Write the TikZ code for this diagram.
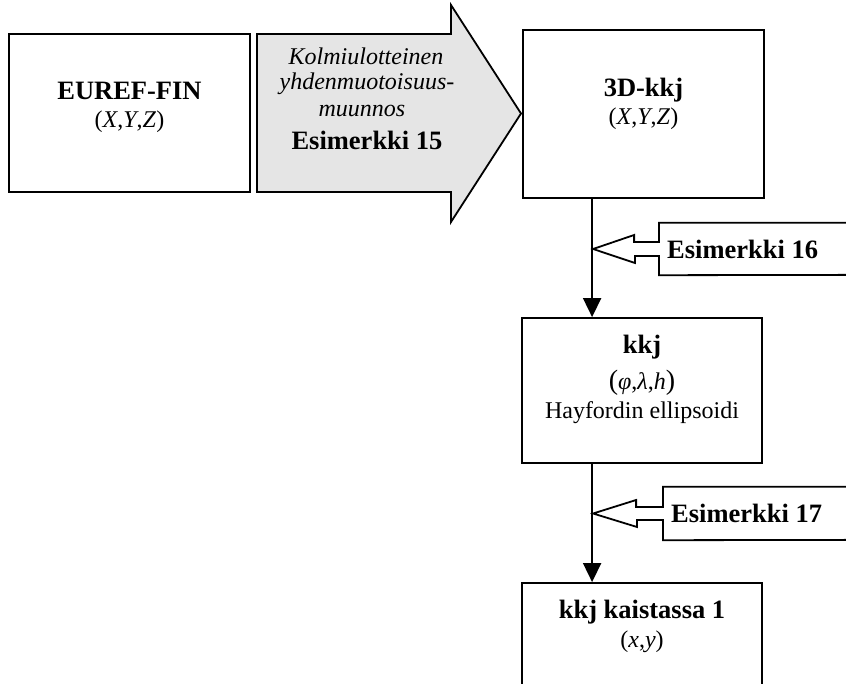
\documentclass[tikz,border=0pt]{standalone}
\usepackage{fontspec}
\setmainfont{Liberation Serif}
\usetikzlibrary{calc,arrows.meta}
\begin{document}
\begin{tikzpicture}[x=1pt,y=-1pt,
  box/.style={draw,line width=1.8pt,inner sep=0pt},
  ttl/.style={anchor=base,inner sep=0pt,font=\fontsize{26.5}{30}\selectfont\bfseries},
  sub/.style={anchor=base,inner sep=0pt,font=\fontsize{24}{28}\selectfont},
  itl/.style={anchor=base,inner sep=0pt,font=\fontsize{24}{28}\selectfont\itshape},
  note/.style={anchor=west,inner xsep=8pt,inner ysep=0pt,minimum height=52pt,
    font=\fontsize{26.5}{30}\selectfont\bfseries},
  flow/.style={line width=1.8pt,-{Triangle[width=18pt,length=19pt]}},
  callout/.style={draw,line width=1.8pt,line join=miter},
  bigarrow/.style={draw,line width=1.8pt,fill=black!10,line join=miter},
  ]
\clip (0,0) rectangle (846,684);

% wide transformation arrow between the two 3D systems
\draw[bigarrow] (257,34) -- (451,34) -- (451,5) -- (521,113.5) -- (451,222)
  -- (451,192) -- (257,192) -- cycle;
\node[itl] (t1) at (366,65) {Kolmiulotteinen};
\node[itl] (t2) at (367,90) {yhdenmuotoisuus-};
\node[itl] (t3) at (362,117) {muunnos};
\node[ttl] (t4) at (367,150) {Esimerkki 15};

% coordinate system boxes
\node[box,minimum width=241pt,minimum height=158pt] (euref) at (129.5,113) {};
\node[ttl] at (129.5,100) {EUREF-FIN};
\node[sub] at (129.5,128) {(\textit{X},\textit{Y},\textit{Z})};

\node[box,minimum width=241pt,minimum height=168pt] (box3d) at (643.5,114) {};
\node[ttl] at (643.5,97) {3D-kkj};
\node[sub] at (643.5,125) {(\textit{X},\textit{Y},\textit{Z})};

\node[box,minimum width=240pt,minimum height=145pt] (kkj) at (642,390.5) {};
\node[ttl] at (642,354) {kkj};
\node[sub] at (642,389) {{\fontsize{28}{30}\selectfont(}\textit{φ},\textit{λ},\textit{h}{\fontsize{28}{30}\selectfont)}};
\node[sub] at (642,418) {Hayfordin ellipsoidi};

\node[box,minimum width=240pt,minimum height=137pt] (kaist) at (642,651.5) {};
\node[ttl] at (642,618) {kkj kaistassa 1};
\node[sub] at (642,647) {(\textit{x},\textit{y})};

% vertical flow
\coordinate (trunk) at ($(box3d.south west)+(70,0)$);
\draw[flow] (trunk) -- (trunk |- kkj.north);
\draw[flow] (trunk |- kkj.south) -- (trunk |- kaist.north);

% example callouts pointing at the flow line
\node[note] (esim16) at (659,249) {Esimerkki 16};
\coordinate (tip16) at ($(trunk |- esim16.west)+(1,0)$);
\draw[callout] (esim16.north west) -- ++(240,0) -- ++(0,52) -- (esim16.south west)
  -- ($(esim16.west)+(0,7)$) -- ++(-24,0) -- ++(0,7) -- (tip16)
  -- ++(41,-14) -- ++(0,7) -- ($(esim16.west)+(0,-7)$) -- cycle;

\node[note,minimum height=53pt] (esim17) at (663,513.5) {Esimerkki 17};
\coordinate (tip17) at ($(trunk |- esim17.west)+(1,0)$);
\draw[callout] (esim17.north west) -- ++(240,0) -- ++(0,53) -- (esim17.south west)
  -- ($(esim17.west)+(0,6.5)$) -- ++(-26,0) -- ++(0,7) -- (tip17)
  -- ++(43,-13.5) -- ++(0,7) -- ($(esim17.west)+(0,-6.5)$) -- cycle;
\end{tikzpicture}
\end{document}
